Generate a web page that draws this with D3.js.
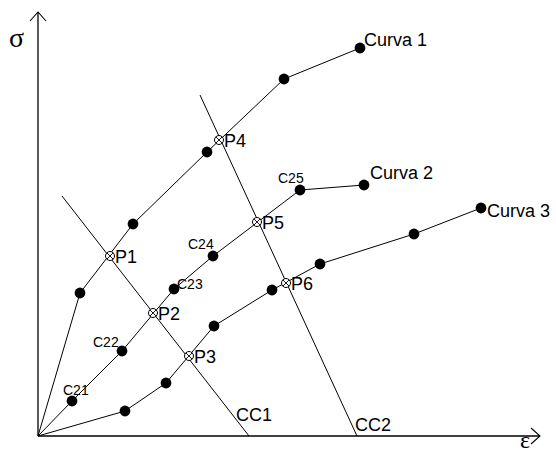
<!DOCTYPE html>
<html>
<head>
<meta charset="utf-8">
<script src="https://cdn.jsdelivr.net/npm/d3@7"></script>
<style>
  html, body { margin: 0; padding: 0; background: #fff; }
  svg { display: block; }
  text { font-family: Arial, "Liberation Sans", sans-serif; fill: #000; }
</style>
</head>
<body>
<svg id="chart" width="556" height="451"></svg>
<script>
// Stress–strain curves (ε, σ) in arbitrary units
const curve1 = [[0, 0], [8.4, 35.75], [19, 53], [33.8, 71], [49.2, 89.25], [64.4, 97]];
const curve2 = [[0, 0], [6.8, 8.75], [16.8, 21.25], [27.2, 36.75], [35, 45], [52.4, 61.5], [65.2, 62.75]];
const curve3 = [[0, 0], [17.4, 6.25], [25.6, 13.25], [35.2, 27.5], [46.8, 36.5], [56.4, 43], [75.2, 50.5], [88.6, 57]];

const curveNames = ["Curva 1", "Curva 2", "Curva 3"];

// Labels of the intermediate points of Curva 2 (index into curve2)
const c2Labels = [["C21", 1], ["C22", 2], ["C23", 3], ["C24", 4], ["C25", 5]];

// Intersection points of the constant lines with the curves
const pointNames = ["P1", "P2", "P3", "P4", "P5", "P6"];
const pointValues = [[14.4, 45], [23, 30.75], [30.2, 20], [36.2, 74], [43.8, 53.5], [49.6, 38.25]];

// Constant lines CC1 and CC2 (top end, bottom end)
const ccNames = ["CC1", "CC2"];
const ccLines = [[[4.8, 60], [42.2, 0]], [[32.4, 85.25], [63.8, 0]]];

const svg = d3.select("#chart");
const x = d3.scaleLinear().domain([0, 100]).range([38, 538]);
const y = d3.scaleLinear().domain([0, 100]).range([436, 36]);

const ink = "#000";

// Axes with arrowheads
const xEnd = 100.4, yEnd = 106;
svg.append("line").attr("x1", x(0)).attr("y1", y(0)).attr("x2", x(xEnd)).attr("y2", y(0))
  .attr("stroke", ink).attr("stroke-width", 1.3);
svg.append("line").attr("x1", x(0)).attr("y1", y(0)).attr("x2", x(0)).attr("y2", y(yEnd))
  .attr("stroke", ink).attr("stroke-width", 1.3);
svg.append("path")
  .attr("d", `M${x(0) - 8},${y(yEnd) + 9}L${x(0)},${y(yEnd)}L${x(0) + 8},${y(yEnd) + 9}`)
  .attr("fill", "none").attr("stroke", ink).attr("stroke-width", 1.1);
svg.append("path")
  .attr("d", `M${x(xEnd) - 9},${y(0) - 8}L${x(xEnd)},${y(0)}L${x(xEnd) - 9},${y(0) + 8}`)
  .attr("fill", "none").attr("stroke", ink).attr("stroke-width", 1.1);

svg.append("text").attr("x", 9).attr("y", 47)
  .style("font-family", "'Liberation Serif', 'Times New Roman', serif")
  .style("font-size", "28px").text("σ");
svg.append("text").attr("x", 520).attr("y", 448)
  .style("font-family", "'Liberation Serif', 'Times New Roman', serif")
  .style("font-size", "24px").text("ε");

// Constant lines
const line = d3.line().x(d => x(d[0])).y(d => y(d[1]));
ccLines.forEach(seg => {
  svg.append("path").attr("d", line(seg)).attr("fill", "none")
    .attr("stroke", ink).attr("stroke-width", 1);
});
svg.append("text").attr("x", x(ccLines[0][1][0]) - 13).attr("y", y(0) - 15)
  .style("font-size", "18px").text(ccNames[0]);
svg.append("text").attr("x", x(ccLines[1][1][0]) - 2).attr("y", y(0) - 5)
  .style("font-size", "18px").text(ccNames[1]);

// Curves
const curves = [curve1, curve2, curve3];
curves.forEach(c => {
  svg.append("path").attr("d", line(c)).attr("fill", "none")
    .attr("stroke", ink).attr("stroke-width", 1);
  svg.selectAll(null).data(c.slice(1)).enter().append("circle")
    .attr("cx", d => x(d[0])).attr("cy", d => y(d[1])).attr("r", 5.4)
    .attr("fill", ink);
});

// Curve names beside the last point
const nameOffsets = [[4, -2], [6, -6], [6, 9]];
curves.forEach((c, i) => {
  const last = c[c.length - 1];
  svg.append("text")
    .attr("x", x(last[0]) + nameOffsets[i][0])
    .attr("y", y(last[1]) + nameOffsets[i][1])
    .style("font-size", "18px").text(curveNames[i]);
});

// Curva 2 point labels
const c2Off = { C21: [-9, -6], C22: [-29, -4], C23: [3, 0], C24: [-25, -7], C25: [-22, -7] };
c2Labels.forEach(([name, idx]) => {
  const p = curve2[idx];
  svg.append("text")
    .attr("x", x(p[0]) + c2Off[name][0])
    .attr("y", y(p[1]) + c2Off[name][1])
    .style("font-size", "14px").text(name);
});

// Intersection markers: open circle with a cross
pointValues.forEach((p, i) => {
  const cx = x(p[0]), cy = y(p[1]), r = 4.5, k = r * 0.7071;
  svg.append("circle").attr("cx", cx).attr("cy", cy).attr("r", r)
    .attr("fill", "#fff").attr("stroke", ink).attr("stroke-width", 1);
  svg.append("path")
    .attr("d", `M${cx - k},${cy - k}L${cx + k},${cy + k}M${cx - k},${cy + k}L${cx + k},${cy - k}`)
    .attr("stroke", ink).attr("stroke-width", 0.9);
  svg.append("text").attr("x", cx + 5).attr("y", cy + 7)
    .style("font-size", "18px").text(pointNames[i]);
});
</script>
</body>
</html>
